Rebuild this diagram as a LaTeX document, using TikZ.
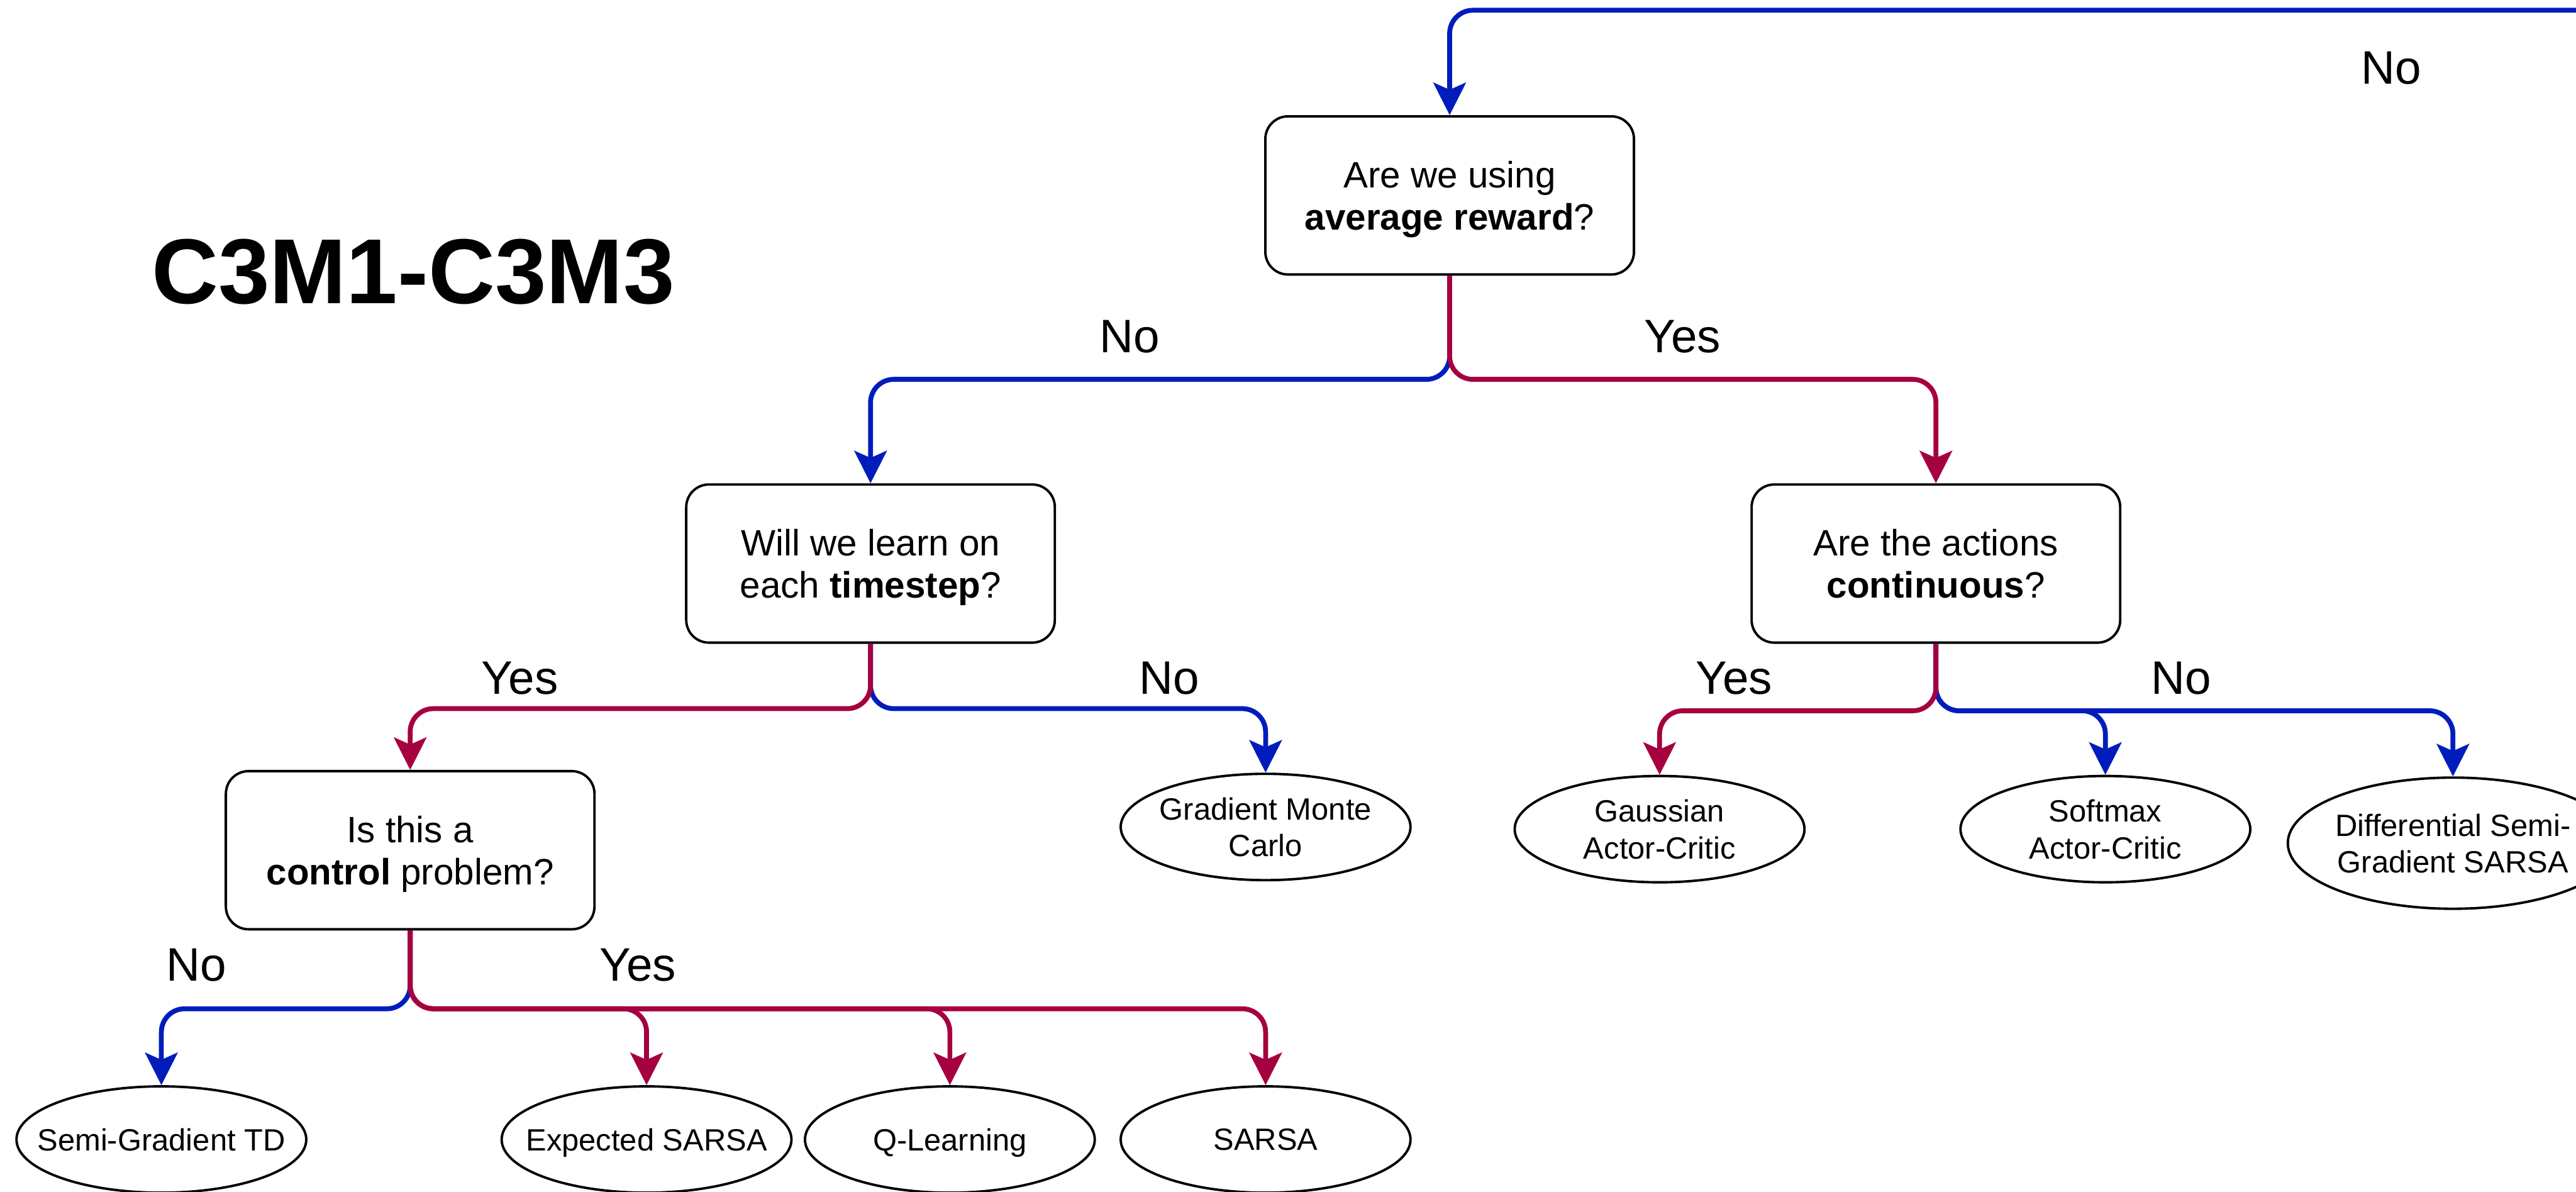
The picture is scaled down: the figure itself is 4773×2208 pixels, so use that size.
\documentclass[tikz,border=0pt]{standalone}
\usepackage{fontspec}
\setmainfont{Liberation Sans}
\usetikzlibrary{arrows.meta,shapes.geometric}

\definecolor{nocol}{HTML}{001DBC}
\definecolor{yescol}{HTML}{A50040}

\begin{document}
\begin{tikzpicture}[x=0.1pt,y=-0.1pt,
  question/.style={draw=black, line width=0.45pt, rounded corners=4.2pt,
    minimum width=68.3pt, minimum height=29.3pt, inner sep=0pt,
    text depth=0pt,
    align=center, font=\fontsize{6.8}{7.8}\selectfont},
  leaf/.style={draw=black, line width=0.45pt, ellipse,
    minimum width=53.7pt, minimum height=19.7pt,
    inner xsep=-30pt, inner ysep=0pt, text depth=0pt,
    align=center, font=\fontsize{5.7}{6.8}\selectfont},
  branch/.style={line width=0.9pt, rounded corners=4.3pt,
    -{Stealth[length=6pt,width=6pt,inset=1.3pt]}},
  noedge/.style={branch, color=nocol},
  yesedge/.style={branch, color=yescol},
  lbl/.style={anchor=base, inner sep=0pt, font=\fontsize{8.7}{10}\selectfont}
]
\useasboundingbox (0,0) rectangle (4773,2208);
\clip (0,0) rectangle (4773,2208);

% title
\node[anchor=base west, inner sep=0pt,
      font=\fontsize{17.1}{21}\selectfont\bfseries] (title) at (279,562) {C3M1-C3M3};

% decision boxes
\node[question] (q1) at (2686,362)  {Are we using\\\textbf{average reward}?};
\node[question] (q2) at (1613,1044) {Will we learn on\\each \textbf{timestep}?};
\node[question] (q3) at (3587,1044) {Are the actions\\\textbf{continuous}?};
\node[question] (q4) at (760,1575)  {Is this a\\\textbf{control} problem?};

% algorithms
\node[leaf] (gmc)    at (2345,1532) {Gradient Monte\\Carlo};
\node[leaf] (gauss)  at (3075,1536) {Gaussian\\Actor-Critic};
\node[leaf] (soft)   at (3901,1536) {Softmax\\Actor-Critic};
\node[leaf, minimum width=61.2pt, minimum height=24.3pt] (diff) at (4545,1562)
      {Differential Semi-\\Gradient SARSA};
\node[leaf] (sgtd)   at (299,2111)  {Semi-Gradient TD};
\node[leaf] (esarsa) at (1198,2111) {Expected SARSA};
\node[leaf] (qlearn) at (1760,2111) {Q-Learning};
\node[leaf] (sarsa)  at (2345,2111) {SARSA};

% incoming branch from the previous part of the tree
\coordinate (src) at (4900,19);
\draw[noedge] (src) -| (q1.north);
\node[lbl] (lno0) at (4431,155) {No};

% average reward?
\draw[noedge]  (q1.south) -- ++(0,192) -| (q2.north);
\draw[yesedge] (q1.south) -- ++(0,192) -| (q3.north);
\node[lbl] (lno1)  at (2093,653) {No};
\node[lbl] (lyes1) at (3117,653) {Yes};

% learn on each timestep?
\draw[noedge]  (q2.south) -- ++(0,120) -| (gmc.north);
\draw[yesedge] (q2.south) -- ++(0,120) -| (q4.north);
\node[lbl] (lyes2) at (963,1286)  {Yes};
\node[lbl] (lno2)  at (2167,1286) {No};

% continuous actions?
\draw[noedge]  (q3.south) -- ++(0,124) -| (soft.north);
\draw[noedge]  (q3.south) -- ++(0,124) -| (diff.north);
\draw[yesedge] (q3.south) -- ++(0,124) -| (gauss.north);
\node[lbl] (lyes3) at (3213,1286) {Yes};
\node[lbl] (lno3)  at (4042,1286) {No};

% control problem?
\draw[noedge]  (q4.south) -- ++(0,145) -| (sgtd.north);
\draw[yesedge] (q4.south) -- ++(0,145) -| (esarsa.north);
\draw[yesedge] (q4.south) -- ++(0,145) -| (qlearn.north);
\draw[yesedge] (q4.south) -- ++(0,145) -| (sarsa.north);
\node[lbl] (lno4)  at (364,1817)  {No};
\node[lbl] (lyes4) at (1182,1817) {Yes};
\end{tikzpicture}
\end{document}
